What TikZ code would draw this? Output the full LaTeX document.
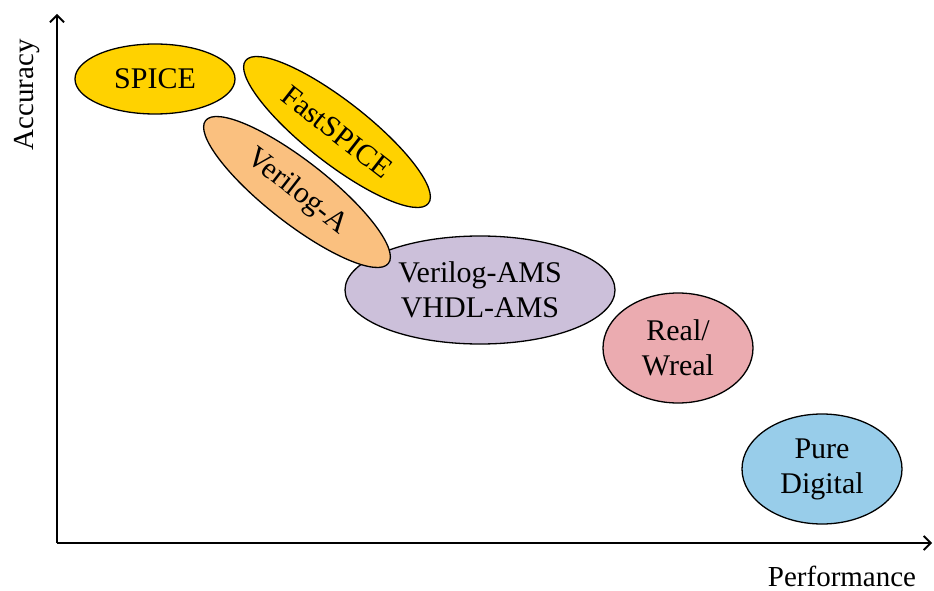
\documentclass[tikz,border=0pt]{standalone}
\usepackage{fontspec}
\setmainfont{Liberation Serif}
\usetikzlibrary{shapes.geometric,arrows.meta}
\definecolor{gold}{HTML}{FFD200}
\definecolor{peach}{HTML}{FAC07F}
\definecolor{lilac}{HTML}{CCC0DA}
\definecolor{rose}{HTML}{EBABB0}
\definecolor{sky}{HTML}{98CDEA}
\tikzset{
  blob/.style={ellipse, draw=black, line width=1.3pt, inner sep=0pt,
    font=\fontsize{30}{35}\selectfont, align=center},
  axis/.style={line width=1.8pt, -{Straight Barb[length=7pt,width=14pt,line width=1.8pt]}},
  axlabel/.style={font=\fontsize{29}{33}\selectfont}
}
\begin{document}
\begin{tikzpicture}[x=1pt,y=-1pt]
\useasboundingbox[fill=white] (0,0) rectangle (934,591);
% axes
\coordinate (O) at (57,543);
\coordinate (ytop) at (57,14);
\coordinate (xend) at (932,543);
\draw[axis] (O) -- (ytop);
\draw[axis] (O) -- (xend);
\node[axlabel, rotate=90] (acc) at (27,95) {Accuracy};
\node[axlabel] (perf) at (842,576) {Performance};
% modelling levels
\node[blob, fill=gold, minimum width=160, minimum height=70] (spice) at (155,79) {SPICE};
\node[blob, fill=gold, rotate=-38, minimum width=232, minimum height=62] (fast) at (337,132) {FastSPICE};
\node[blob, fill=lilac, minimum width=270, minimum height=108] (ams) at (480,290) {Verilog-AMS\\VHDL-AMS};
\node[blob, fill=peach, rotate=-38, minimum width=232, minimum height=62] (va) at (297,192) {Verilog-A};
\node[blob, fill=rose, minimum width=150, minimum height=110] (real) at (678,348) {Real/\\Wreal};
\node[blob, fill=sky, minimum width=160, minimum height=110] (pure) at (822,469) {Pure\\Digital};
\end{tikzpicture}
\end{document}
